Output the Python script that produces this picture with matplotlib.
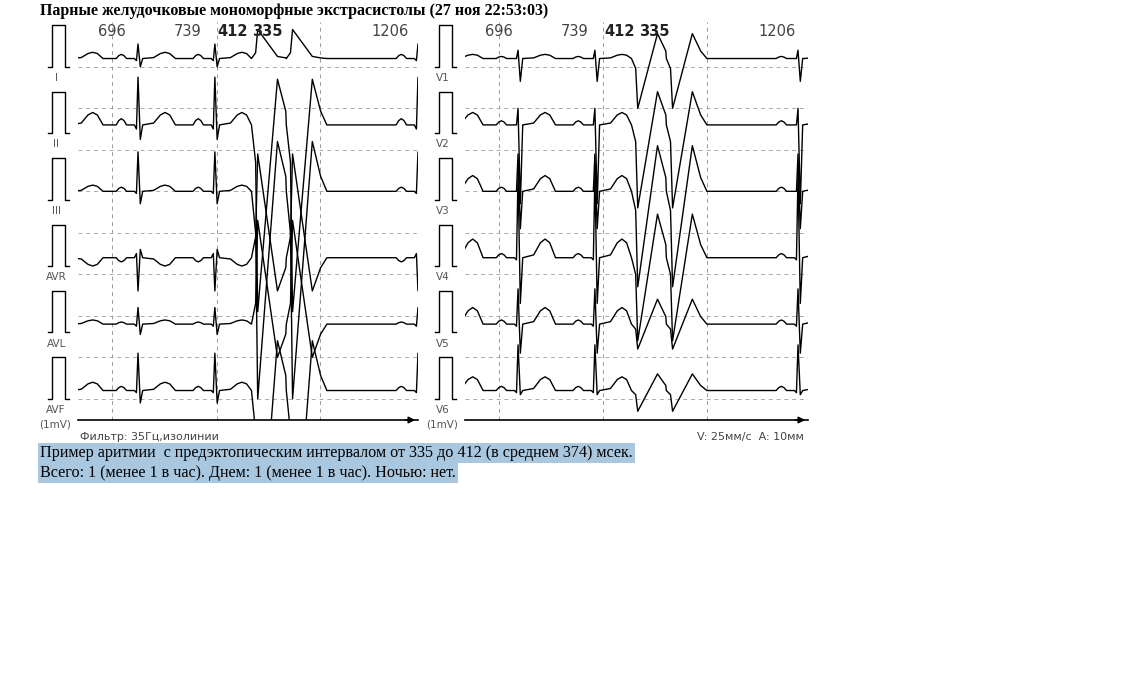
import matplotlib.pyplot as plt
import numpy as np

# ---- данные ----
rr = [696, 739, 412, 335, 1206]          # интервалы RR, мс
beat_kind = ['N', 'N', 'N', 'V', 'V', 'N']  # N - нормальный, V - экстрасистола
rr_label_t = [446, 1177, 1609, 1936, 3119]  # где подписать интервалы (мс)
rr_bold = [False, False, True, True, False]

leads_left = ['I', 'II', 'III', 'AVR', 'AVL', 'AVF']
leads_right = ['V1', 'V2', 'V3', 'V4', 'V5', 'V6']

# нормальный комплекс: P, Q, R, S, T (мВ)
norm_amp = {
    'I':   [0.10, -0.05, 0.35, -0.20, 0.15],
    'II':  [0.15, -0.10, 1.15, -0.35, 0.30],
    'III': [0.10, -0.05, 0.95, -0.30, 0.15],
    'AVR': [-0.10, 0.10, -0.80, 0.20, -0.20],
    'AVL': [0.05, -0.05, 0.40, -0.25, 0.10],
    'AVF': [0.10, -0.05, 0.90, -0.30, 0.20],
    'V1':  [0.05, 0.00, 0.20, -0.55, 0.10],
    'V2':  [0.10, 0.00, 0.40, -1.90, 0.30],
    'V3':  [0.10, 0.00, 0.90, -0.90, 0.38],
    'V4':  [0.10, -0.05, 2.00, -1.10, 0.45],
    'V5':  [0.10, -0.05, 0.85, -0.70, 0.40],
    'V6':  [0.10, -0.05, 1.10, -0.10, 0.33],
}
# экстрасистола: первая фаза, вторая фаза (мВ)
pvc_amp = {
    'I':   [0.70, 0.05],
    'II':  [-4.50, 1.10],
    'III': [-5.00, 1.20],
    'AVR': [2.50, -0.80],
    'AVL': [2.50, -0.80],
    'AVF': [-5.00, 1.20],
    'V1':  [-1.20, 0.60],
    'V2':  [-2.00, 0.80],
    'V3':  [-2.30, 1.10],
    'V4':  [-2.00, 1.05],
    'V5':  [-0.60, 0.60],
    'V6':  [-0.50, 0.40],
}

# форма комплексов: смещение (мс) и номер компонента
norm_dt = [-210, -185, -160, -135, -110, -35, -15, 0, 22, 45, 150, 215, 260, 305, 360]
norm_comp = [None, ('P', .7), ('P', 1), ('P', .7), None, None, ('Q', 1), ('R', 1), ('S', 1), None,
             ('T', .15), ('T', .8), ('T', 1), ('T', .8), None]
pvc_dt = [-60, -20, 0, 190, 270, 330]
pvc_comp = [None, ('A', .2), ('A', 1), ('B', 1), ('B', .3), None]

beat_t = np.concatenate([[0], np.cumsum(rr)])
spacing = 1.6   # мВ между отведениями
px_per_ms = 0.104


def trace(lead):
    P, Q, R, S, T = norm_amp[lead]
    A, B = pvc_amp[lead]
    amp = {'P': P, 'Q': Q, 'R': R, 'S': S, 'T': T, 'A': A, 'B': B}
    ts, vs = [beat_t[0] - 400], [0.0]
    for i, (bt, kind) in enumerate(zip(beat_t, beat_kind)):
        dts, comps = (norm_dt, norm_comp) if kind == 'N' else (pvc_dt, pvc_comp)
        nxt = 1e9
        if i + 1 < len(beat_t):
            nxt = beat_t[i + 1] + (norm_dt[0] if beat_kind[i + 1] == 'N' else pvc_dt[0])
        for dt, c in zip(dts, comps):
            t = bt + dt
            if t >= nxt or t <= ts[-1]:
                continue
            ts.append(t)
            vs.append(0.0 if c is None else amp[c[0]] * c[1])
    ts.append(beat_t[-1] + 600)
    vs.append(0.0)
    return np.array(ts), np.array(vs)


fig = plt.figure(figsize=(11.4, 6.92), dpi=100)
W, H = 1140, 692

panels = [(78, 418, 119, leads_left, [446, 1455, 2445], 'Фильтр: 35Гц,изолинии', 'left'),
          (465, 808, 186, leads_right, [513, 1513, 2513], 'V: 25мм/с  A: 10мм', 'right')]

for x0, x1, t0, leads, vgrid, foot, ha in panels:
    ax = fig.add_axes([x0 / W, (H - 420) / H, (x1 - x0) / W, 398 / H])
    t1 = t0 + (x1 - x0) / px_per_ms
    ytop = 1.08
    ax.set_xlim(t0, t1)
    ax.set_ylim(ytop - 398 / 41.5, ytop)
    for s in ['top', 'left', 'right']:
        ax.spines[s].set_visible(False)
    ax.spines['bottom'].set_linewidth(1.2)
    ax.set_xticks([])
    ax.set_yticks([])
    for g in vgrid:
        ax.axvline(g, color='#999999', ls=(0, (4, 4)), lw=0.7)
    for k in range(0, 9):
        ax.axhline(-k, color='#aaaaaa', ls=(0, (4, 4)), lw=0.7)
    for i, lead in enumerate(leads):
        base = -spacing * i
        ts, vs = trace(lead)
        ax.plot(ts, vs + base + 0.2, color='black', lw=1.0)
        # калибровочный импульс
        cx = [t0 - 290, t0 - 250, t0 - 250, t0 - 125, t0 - 125, t0 - 90]
        cy = [0, 0, 1, 1, 0, 0]
        ax.plot(cx, np.array(cy) + base, color='black', lw=1.0, clip_on=False)
        ax.text(t0 - 210, base - 0.15, lead, fontsize=7.5, color='#555555',
                ha='center', va='top', clip_on=False)
    ax.text(t0 - 370, -spacing * 5 - 0.5, '(1mV)', fontsize=7.5, color='#555555',
            ha='left', va='top', clip_on=False)
    for lt, lab, b in zip(rr_label_t, rr, rr_bold):
        ax.text(lt + (t0 - 119), 0.975, str(lab), transform=ax.get_xaxis_transform(),
                fontsize=10.5, color='#222222' if b else '#444444',
                fontweight='bold' if b else 'normal', ha='center', va='center')
    ax.annotate('', xy=(t1, ytop - 398 / 41.5), xytext=(t1 - 150, ytop - 398 / 41.5),
                arrowprops=dict(arrowstyle='-|>', color='black', lw=1), annotation_clip=False)
    if ha == 'left':
        ax.text(t0 + 20, -0.03, foot, transform=ax.get_xaxis_transform(), fontsize=8,
                color='#444444', ha='left', va='top')
    else:
        ax.text(t1 - 40, -0.03, foot, transform=ax.get_xaxis_transform(), fontsize=8,
                color='#444444', ha='right', va='top')

fig.text(40 / W, 1 - 11 / H, 'Парные желудочковые мономорфные экстрасистолы (27 ноя 22:53:03)',
         family='Liberation Serif', fontsize=11.5, fontweight='bold', ha='left', va='center')
hl = dict(facecolor='#a9c7df', edgecolor='none', pad=1.5)
fig.text(40 / W, 1 - 453 / H,
         'Пример аритмии  с предэктопическим интервалом от 335 до 412 (в среднем 374) мсек.',
         family='Liberation Serif', fontsize=11.6, ha='left', va='center', bbox=hl)
fig.text(40 / W, 1 - 473 / H, 'Всего: 1 (менее 1 в час). Днем: 1 (менее 1 в час). Ночью: нет.',
         family='Liberation Serif', fontsize=11.6, ha='left', va='center', bbox=hl)

fig.savefig('out.png', dpi=100)
